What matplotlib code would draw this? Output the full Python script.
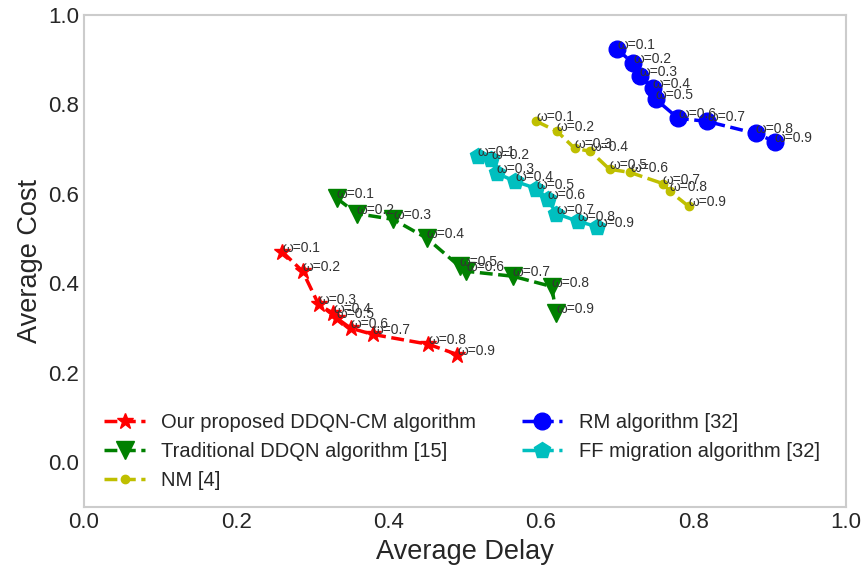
import matplotlib
matplotlib.use("Agg")
import matplotlib.pyplot as plt
import seaborn as sns

sns.set_style("white")
plt.rcParams['font.family'] = ['Liberation Sans', 'DejaVu Sans']

omegas = [0.1, 0.2, 0.3, 0.4, 0.5, 0.6, 0.7, 0.8, 0.9]

ddqn_cm_delay = [0.260, 0.287, 0.308, 0.327, 0.332, 0.350, 0.379, 0.452, 0.490]
ddqn_cm_cost = [0.471, 0.427, 0.353, 0.333, 0.322, 0.300, 0.286, 0.264, 0.241]

ddqn_delay = [0.332, 0.358, 0.406, 0.450, 0.493, 0.502, 0.563, 0.614, 0.620]
ddqn_cost = [0.590, 0.556, 0.543, 0.501, 0.438, 0.427, 0.416, 0.393, 0.333]

nm_delay = [0.594, 0.621, 0.644, 0.665, 0.690, 0.717, 0.760, 0.769, 0.794]
nm_cost = [0.762, 0.740, 0.702, 0.695, 0.655, 0.648, 0.623, 0.606, 0.572]

rm_delay = [0.700, 0.721, 0.730, 0.747, 0.751, 0.780, 0.818, 0.882, 0.907]
rm_cost = [0.923, 0.892, 0.863, 0.836, 0.811, 0.769, 0.762, 0.735, 0.717]

ff_delay = [0.517, 0.535, 0.542, 0.566, 0.594, 0.609, 0.620, 0.648, 0.673]
ff_cost = [0.684, 0.677, 0.646, 0.628, 0.612, 0.588, 0.556, 0.539, 0.527]

fig, ax = plt.subplots(figsize=(8.62, 5.73), dpi=100)
fig.subplots_adjust(left=0.0975, right=0.981, top=0.974, bottom=0.115)

series = [
    (ddqn_cm_delay, ddqn_cm_cost, 'r', '*', 12, 'Our proposed DDQN-CM algorithm'),
    (ddqn_delay, ddqn_cost, 'g', 'v', 13, 'Traditional DDQN algorithm [15]'),
    (nm_delay, nm_cost, 'y', 'o', 6, 'NM [4]'),
    (rm_delay, rm_cost, 'b', 'o', 12, 'RM algorithm [32]'),
    (ff_delay, ff_cost, 'c', 'p', 12, 'FF migration algorithm [32]'),
]

for xs, ys, col, mk, ms, lab in series:
    ax.plot(xs, ys, linestyle='--', color=col, marker=mk, markersize=ms,
            linewidth=2.5, label=lab)
    for w, x, y in zip(omegas, xs, ys):
        ax.text(x, y, f'ω={w}', fontsize=10, color='#333333')

ax.set_xlim(0, 1.0)
ax.set_ylim(-0.1, 1.0)
ax.set_xticks([0.0, 0.2, 0.4, 0.6, 0.8, 1.0])
ax.set_yticks([0.0, 0.2, 0.4, 0.6, 0.8, 1.0])
ax.tick_params(labelsize=16, colors='#262626', length=0)
for sp in ax.spines.values():
    sp.set_color('#cccccc')
    sp.set_linewidth(1.5)
ax.set_xlabel('Average Delay', fontsize=19.5, color='#262626')
ax.set_ylabel('Average Cost', fontsize=19.5, color='#262626')
leg = ax.legend(loc='lower left', bbox_to_anchor=(0.007, 0.004), ncol=2,
                frameon=False, fontsize=14.5, columnspacing=2.3,
                borderaxespad=0.35)
for t in leg.get_texts():
    t.set_color('#262626')

plt.savefig('out.png')
